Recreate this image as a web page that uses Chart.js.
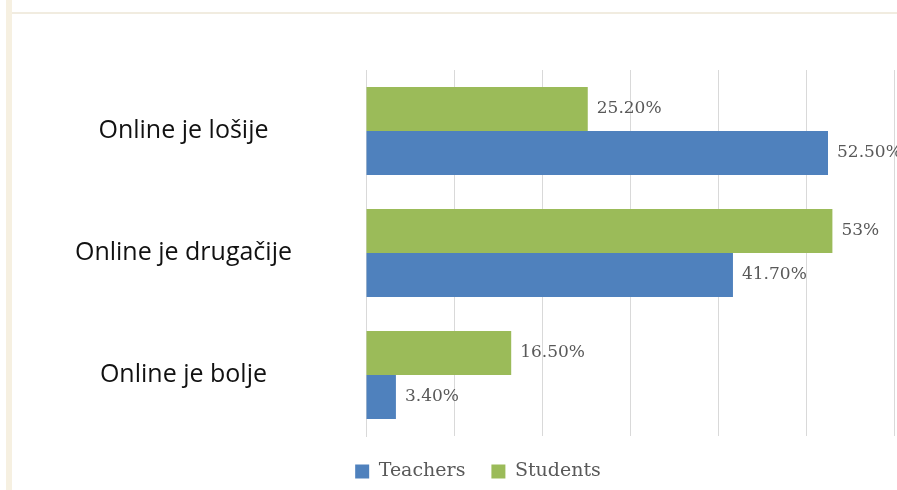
<!DOCTYPE html>
<html>
<head>
<meta charset="utf-8">
<script src="https://cdn.jsdelivr.net/npm/chart.js@4"></script>
<style>
  html, body { margin: 0; padding: 0; background: #ffffff; }
  #wrap { position: relative; width: 897px; height: 490px; overflow: hidden; }
  #lb { position: absolute; left: 6px; top: 0; width: 6px; height: 490px; background: #f6f0e1; }
  #tb { position: absolute; left: 12px; top: 12px; width: 885px; height: 2px; background: #f1ece0; }
  canvas { position: absolute; left: 0; top: 0; }
</style>
</head>
<body>
<div id="wrap">
  <div id="lb"></div>
  <div id="tb"></div>
  <canvas id="c" width="897" height="490"></canvas>
</div>
<script>
const categories = ["Online je lošije", "Online je drugačije", "Online je bolje"];
const seriesNames = ["Students", "Teachers"];
const studentsValues = [25.2, 53, 16.5];
const teachersValues = [52.5, 41.7, 3.4];
const axisMax = 60;
const axisStep = 10;

function fmt(v) {
  return (Math.round(v) === v ? String(v) : v.toFixed(2)) + "%";
}

const valueLabels = {
  id: "valueLabels",
  afterDatasetsDraw(chart) {
    const ctx = chart.ctx;
    ctx.save();
    ctx.font = "17px 'DejaVu Serif'";
    ctx.fillStyle = "#595959";
    ctx.textAlign = "left";
    ctx.textBaseline = "middle";
    chart.data.datasets.forEach((ds, i) => {
      const meta = chart.getDatasetMeta(i);
      meta.data.forEach((bar, j) => {
        ctx.fillText(fmt(ds.data[j]), bar.x + 9, bar.y);
      });
    });
    ctx.restore();
  }
};

new Chart(document.getElementById("c"), {
  type: "bar",
  data: {
    labels: categories,
    datasets: [
      { label: seriesNames[0], data: studentsValues, backgroundColor: "#9bbb59", borderWidth: 0 },
      { label: seriesNames[1], data: teachersValues, backgroundColor: "#4f81bd", borderWidth: 0 }
    ]
  },
  options: {
    indexAxis: "y",
    responsive: false,
    animation: false,
    devicePixelRatio: 1,
    layout: { padding: { left: 62, right: 3, top: 70, bottom: -1 } },
    datasets: { bar: { categoryPercentage: 0.72, barPercentage: 1 } },
    scales: {
      x: {
        min: 0, max: axisMax,
        ticks: { display: false, stepSize: axisStep },
        grid: { color: "#d9d9d9", drawTicks: false },
        border: { display: false }
      },
      y: {
        grid: { display: false, drawTicks: false },
        border: { display: true, color: "#d9d9d9" },
        ticks: {
          crossAlign: "center",
          color: "#111111",
          padding: 74,
          font: { family: "'Open Sans'", size: 25 }
        },
        afterFit(scale) {
          scale.width = 304;
          scale.paddingTop = 0;
          scale.paddingBottom = 0;
        }
      }
    },
    plugins: {
      legend: {
        position: "bottom",
        reverse: true,
        labels: {
          boxWidth: 14, boxHeight: 14,
          color: "#595959",
          font: { family: "'DejaVu Serif'", size: 19 },
          padding: 26
        }
      },
      tooltip: { enabled: false }
    }
  },
  plugins: [valueLabels]
});
</script>
</body>
</html>
